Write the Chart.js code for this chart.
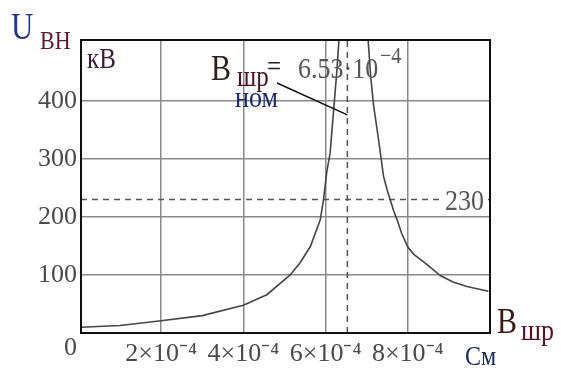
<!DOCTYPE html>
<html><head><meta charset="utf-8">
<script src="https://cdn.jsdelivr.net/npm/chart.js@4/dist/chart.umd.min.js"></script>
<style>html,body{margin:0;padding:0;background:#fff}#wrap{width:561px;height:371px}</style>
</head><body><div id="wrap"><canvas id="c" width="561" height="371"></canvas></div>
<script>
// B_шр values in units of 1e-4 См
const bShr = [0.05,1.0,2.0,3.0,4.0,4.57,5.14,5.38,5.63,5.87,5.95,6.03,6.11,6.19,6.27,6.34,6.65,7.02,7.10,7.17,7.29,7.41,7.50,7.57,7.66,7.74,7.85,8.0,8.14,8.47,8.79,9.1,9.44,9.96];
// U_ВН values, кВ (null = break at resonance, off-scale)
const uVN  = [10,13,21,30,48,66,100,121,149,195,230,278,310,379,448,520,null,520,440,391,333,270,246,230,210,195,172,148,136,118,99,88,80,72];
const xTicks = [2,4,6,8];          // ×1e-4
const yTicks = [0,100,200,300,400];
const bNom = 6.53;                 // ×1e-4
const uLevel = 230;
const X_UNIT = 1e-4;
const xMin = 0.05, xMax = 10.0, yMax = 505;

const SERIF = '"Liberation Serif","Times New Roman",serif';

const curve = bShr.map((b,i)=>({x:b*X_UNIT, y:uVN[i]}));
const hLine = [{x:xMin*X_UNIT,y:uLevel},{x:xMax*X_UNIT,y:uLevel}];
const vLine = [{x:bNom*X_UNIT,y:0},{x:bNom*X_UNIT,y:yMax}];

const framePlugin = {
  id:'frame',
  afterDraw(chart){
    const {ctx, chartArea:a, scales:{x,y}} = chart;
    ctx.save();
    ctx.textBaseline = 'alphabetic';
    const t = (s, px, py, size, col, sy=1.15) => {
      ctx.save(); ctx.translate(px, py); ctx.scale(1, sy);
      ctx.font = size+'px '+SERIF; ctx.fillStyle = col; ctx.fillText(s, 0, 0);
      ctx.restore();
    };
    // "230" label over the dashed line
    ctx.fillStyle = '#fff';
    ctx.fillRect(444, y.getPixelForValue(uLevel)-6, 39, 12);
    t(String(uLevel), 445, 210, 26, '#555');
    // frame
    ctx.strokeStyle = '#111';
    ctx.lineWidth = 2;
    ctx.strokeRect(a.left, a.top, a.right-a.left, a.bottom-a.top);
    // leader line to nominal
    ctx.lineWidth = 1.5;
    ctx.beginPath();
    ctx.moveTo(277, 83);
    ctx.lineTo(x.getPixelForValue(bNom*X_UNIT), y.getPixelForValue(376));
    ctx.stroke();
    // axis titles
    t('U', 11, 39, 31, '#1f3a86', 1.2);
    t('ВН', 40, 49, 22, '#5a1a2a');
    t('кВ', 87, 68, 25, '#3b1f3a');
    // annotation
    t('B', 211, 80, 30, '#2e2020', 1.2);
    t('шр', 237, 86, 25, '#4a1020');
    t('=', 267, 76, 25, '#222');
    t('ном', 235, 107, 26, '#1a2a70');
    t('6.53·10', 298, 78, 26, '#555');
    t('−4', 380, 63, 20, '#555');
    // x title
    t('B', 497, 333, 30, '#3a1a10', 1.2);
    t('шр', 521, 340, 26, '#5a1020');
    t('См', 465, 365, 24, '#1a2a6a');
    ctx.restore();
  }
};

new Chart(document.getElementById('c'), {
  type:'line',
  data:{ datasets:[
    {label:'U_ВН', data:curve, borderColor:'#454545', borderWidth:1.6, pointRadius:0, tension:0, spanGaps:false},
    {label:'230', data:hLine, borderColor:'#555', borderWidth:1.5, borderDash:[6,5], pointRadius:0},
    {label:'B_ном', data:vLine, borderColor:'#555', borderWidth:1.5, borderDash:[6,5], pointRadius:0}
  ]},
  options:{
    responsive:false, animation:false,
    layout:{padding:{left:0, top:40, right:71, bottom:0}},
    plugins:{legend:{display:false}, tooltip:{enabled:false}},
    scales:{
      x:{type:'linear', min:xMin*X_UNIT, max:xMax*X_UNIT,
        afterBuildTicks:s=>{ s.ticks = xTicks.map(v=>({value:v*X_UNIT})); },
        afterFit:s=>{ s.height = 38; },
        ticks:{ autoSkip:false, maxRotation:0, padding:6, color:'#4a4a4a', font:{family:SERIF, size:26},
          callback:v=>Math.round(v/X_UNIT)+'×10⁻⁴' },
        grid:{color:'#8a8a8a', lineWidth:1.5, drawTicks:false},
        border:{display:false}
      },
      y:{type:'linear', min:0, max:yMax,
        afterBuildTicks:s=>{ s.ticks = yTicks.map(v=>({value:v})); },
        afterFit:s=>{ s.width = 81; },
        ticks:{ autoSkip:false, padding:4, color:'#4a4a4a', font:{family:SERIF, size:26},
          callback:v=> v===0 ? ['', '0'] : String(v) },
        grid:{color:'#8a8a8a', lineWidth:1.5, drawTicks:false},
        border:{display:false}
      }
    }
  },
  plugins:[framePlugin]
});
</script>
</body></html>
